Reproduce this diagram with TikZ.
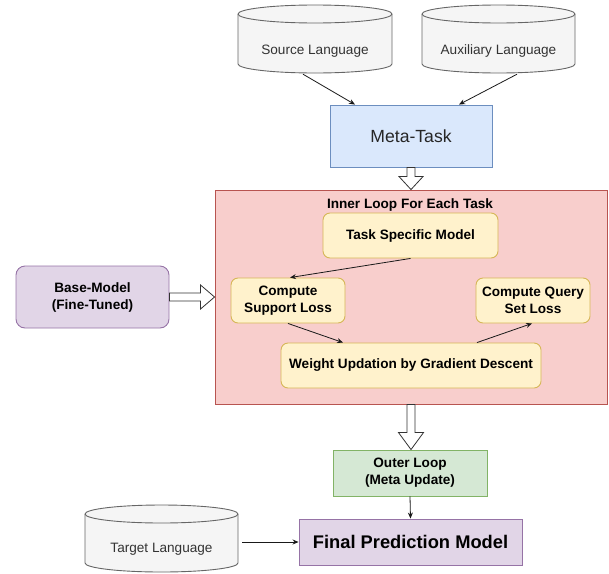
\documentclass[tikz,border=0pt]{standalone}
\usepackage{fontspec}
\setmainfont{Liberation Sans}
\usetikzlibrary{arrows.meta,calc}

\definecolor{cylfillc}{HTML}{F5F5F5}
\definecolor{cyldrawc}{HTML}{666666}
\definecolor{cyltextc}{HTML}{333333}
\definecolor{bluefill}{HTML}{DAE8FC}
\definecolor{bluedraw}{HTML}{6C8EBF}
\definecolor{redfill}{HTML}{F8CECC}
\definecolor{reddraw}{HTML}{B85450}
\definecolor{yelfill}{HTML}{FFF2CC}
\definecolor{yeldraw}{HTML}{D6B656}
\definecolor{purfill}{HTML}{E1D5E7}
\definecolor{purdraw}{HTML}{9673A6}
\definecolor{grnfill}{HTML}{D5E8D4}
\definecolor{grndraw}{HTML}{82B366}

\tikzset{
  box/.style={draw, line width=0.9pt, inner sep=0pt, align=center},
  plainfont/.style={font=\fontsize{13.6}{17}\selectfont},
  boldfont/.style={font=\fontsize{13.6}{17}\selectfont\bfseries},
  metabox/.style={box, fill=bluefill, draw=bluedraw, text=black!85,
    font=\fontsize{17.6}{21}\selectfont},
  loopbox/.style={box, fill=redfill, draw=reddraw},
  stepbox/.style={box, boldfont, fill=yelfill, draw=yeldraw, rounded corners=7pt},
  basebox/.style={box, boldfont, fill=purfill, draw=purdraw, rounded corners=9pt},
  outerbox/.style={box, boldfont, fill=grnfill, draw=grndraw},
  finalbox/.style={box, fill=purfill, draw=purdraw,
    font=\fontsize{18.3}{22}\selectfont\bfseries},
  cylfill/.style={fill=cylfillc, draw=cyldrawc, line width=0.9pt},
  cyledge/.style={draw=cyldrawc, line width=0.9pt},
  cyllabel/.style={plainfont, text=cyltextc, inner sep=0pt, anchor=base},
  cylarea/.style={inner sep=0pt},
  link/.style={draw=black!90, line width=0.8pt,
    -{Stealth[length=6pt,width=5pt]}},
  hollow/.style={draw=black!80, fill=white, line width=0.8pt, line join=miter},
}

% database cylinder: name, left, top, right, bottom, label, label baseline
\newcommand{\dbcyl}[7]{%
  \pgfmathsetmacro\cylcx{(#2+#4)/2}%
  \pgfmathsetmacro\cylrx{(#4-#2)/2}%
  \pgfmathsetmacro\cylcy{-(#3+#5)/2}%
  \pgfmathsetmacro\cylw{#4-#2}%
  \pgfmathsetmacro\cylh{#5-#3}%
  \node[cylarea, minimum width=\cylw pt, minimum height=\cylh pt] (#1) at (\cylcx,\cylcy) {};
  \path[cylfill] (#2,-#3-9) -- (#2,-#5+9)
    arc[start angle=180, end angle=360, x radius=\cylrx pt, y radius=9pt]
    -- (#4,-#3-9)
    arc[start angle=0, end angle=180, x radius=\cylrx pt, y radius=9pt] -- cycle;
  \draw[cyledge] (#2,-#3-9)
    arc[start angle=180, end angle=360, x radius=\cylrx pt, y radius=9pt];
  \node[cyllabel] (#1-label) at (\cylcx,-#7) {#6};
}

% hollow block arrow pointing down: from, to, head half width, head length
\newcommand{\hollowdown}[4]{%
  \draw[hollow] let \p1=(#1), \p2=(#2) in
    ({\x1-4pt},\y1) -- ({\x1-4pt},{\y2+#4pt}) -- ({\x1-#3pt},{\y2+#4pt})
    -- (\x1,\y2) -- ({\x1+#3pt},{\y2+#4pt}) -- ({\x1+4pt},{\y2+#4pt})
    -- ({\x1+4pt},\y1) -- cycle;
}

\begin{document}
\begin{tikzpicture}[x=1pt, y=1pt]
  \useasboundingbox (0,0) rectangle (609,-573);

  % data sources
  \dbcyl{src}{238}{5}{392}{73}{Source Language}{54.5}
  \dbcyl{aux}{422}{5}{575}{73}{Auxiliary Language}{54.5}
  \dbcyl{tgt}{85}{505}{238}{572}{Target Language}{552.5}

  \node[metabox, minimum width=162pt, minimum height=62pt] (meta) at (411,-136) {Meta-Task};

  % inner loop
  \node[loopbox, minimum width=392pt, minimum height=214pt] (inner) at (411,-297) {};
  \node[boldfont, inner sep=0pt] (innertitle) at (410,-205) {Inner Loop For Each Task};
  \node[stepbox, minimum width=175pt, minimum height=45pt] (tsm) at (410.5,-235.5) {Task Specific Model};
  \node[stepbox, minimum width=114pt, minimum height=45pt] (sup) at (288,-300.5) {Compute\\Support Loss};
  \node[stepbox, minimum width=114pt, minimum height=45pt] (qry) at (533,-300.5) {Compute Query\\Set Loss};
  \node[stepbox, minimum width=260pt, minimum height=45pt] (wu) at (411,-365.5) {Weight Updation by Gradient Descent};

  \node[basebox, minimum width=153pt, minimum height=62pt] (base) at (92.5,-297) {Base-Model\\(Fine-Tuned)};

  \node[outerbox, minimum width=154pt, minimum height=46pt] (outer) at (410,-473) {Outer Loop\\(Meta Update)};
  \node[finalbox, minimum width=223pt, minimum height=46pt] (final) at (410.5,-542) {Final Prediction Model};

  % thin connectors
  \draw[link] ($(src.south)+(-12,-1)$) -- ($(meta.north)+(-56,0)$);
  \draw[link] ($(aux.south)+(18.5,-1)$) -- ($(meta.north)+(48,0)$);
  \draw[link] (tsm.south) -- ($(sup.north)+(2,0)$);
  \draw[link] (sup.south) -- ($(wu.north)+(-68,0)$);
  \draw[link] ($(wu.north)+(66,0)$) -- ($(qry.south)+(-1,0)$);
  \draw[link] (outer.south) -- (final.north);
  \draw[link] ($(tgt.east |- final.west)+(4,0)$) -- (final.west);

  % hollow block arrows
  \hollowdown{meta.south}{inner.north}{12}{13}
  \hollowdown{inner.south}{outer.north}{12.5}{17}
  \draw[hollow] let \p1=(base.east), \p2=(inner.west) in
    (\x1,{\y1+4pt}) -- ({\x2-14pt},{\y1+4pt}) -- ({\x2-14pt},{\y1+12pt})
    -- (\x2,\y1) -- ({\x2-14pt},{\y1-12pt}) -- ({\x2-14pt},{\y1-4pt})
    -- (\x1,{\y1-4pt}) -- cycle;
\end{tikzpicture}
\end{document}
